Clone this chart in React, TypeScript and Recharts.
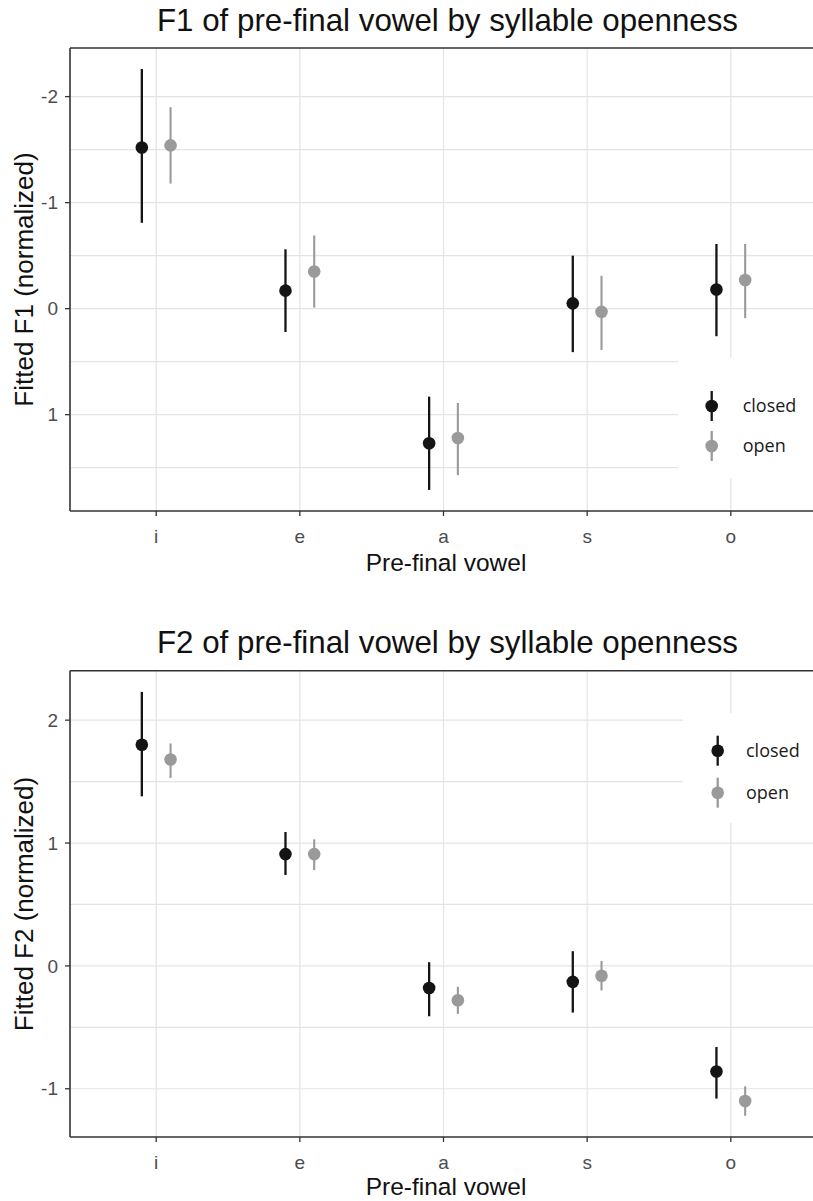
import React from 'react';
import { ScatterChart, Scatter, XAxis, YAxis, CartesianGrid, ErrorBar, ReferenceLine } from 'recharts';

// ---------- data ----------
const vowels = ['i', 'e', 'a', 's', 'o'];
const seriesNames = ['closed', 'open'];

// F1 (normalized), y axis reversed
const f1ClosedMean = [-1.52, -0.17, 1.27, -0.05, -0.18];
const f1ClosedLow = [-2.26, -0.56, 0.83, -0.5, -0.61];
const f1ClosedHigh = [-0.81, 0.22, 1.71, 0.41, 0.26];
const f1OpenMean = [-1.54, -0.35, 1.22, 0.03, -0.27];
const f1OpenLow = [-1.9, -0.69, 0.89, -0.31, -0.61];
const f1OpenHigh = [-1.18, -0.01, 1.57, 0.39, 0.09];

// F2 (normalized)
const f2ClosedMean = [1.8, 0.91, -0.18, -0.13, -0.86];
const f2ClosedLow = [1.38, 0.74, -0.41, -0.38, -1.08];
const f2ClosedHigh = [2.23, 1.09, 0.03, 0.12, -0.66];
const f2OpenMean = [1.68, 0.91, -0.28, -0.08, -1.1];
const f2OpenLow = [1.53, 0.78, -0.39, -0.2, -1.22];
const f2OpenHigh = [1.81, 1.03, -0.17, 0.04, -0.98];

const f1Ticks = [-2, -1, 0, 1];
const f1Grid = [-2, -1.5, -1, -0.5, 0, 0.5, 1, 1.5];
const f2Ticks = [-1, 0, 1, 2];
const f2Grid = [-1, -0.5, 0, 0.5, 1, 1.5, 2];
const xTicks = [1, 2, 3, 4, 5];

// ---------- helpers ----------
const DODGE = 0.1;
const CLOSED = '#141414';
const OPEN = '#9a9a9a';
const GRID = '#e4e4e4';
const BORDER = '#333333';
const SANS = '"Liberation Sans", Arial, Helvetica, sans-serif';
const CHART_W = 813;

type Row = { x: number; y: number; err: [number, number] };

function buildRows(mean: number[], low: number[], high: number[], shift: number): Row[] {
  return mean.map((m, i) => ({ x: i + 1 + shift, y: m, err: [m - low[i], high[i] - m] }));
}

function paddedDomain(arrays: number[][]): [number, number] {
  const all = arrays.flat();
  const mn = Math.min(...all);
  const mx = Math.max(...all);
  const pad = (mx - mn) * 0.05;
  return [mn - pad, mx + pad];
}

const XTick = (props: any) => {
  const { x, y, payload } = props;
  return (
    <text x={x} y={y} dy={27} textAnchor="middle" fontSize={19} fill="#4d4d4d" fontFamily={SANS}>
      {vowels[Math.round(payload.value) - 1]}
    </text>
  );
};

const YTick = (props: any) => {
  const { x, y, payload } = props;
  return (
    <text x={x} y={y} dy={6.7} textAnchor="end" fontSize={19} fill="#4d4d4d" fontFamily={SANS}>
      {payload.value}
    </text>
  );
};

type PanelProps = {
  top: number;
  height: number;
  marginTop: number;
  xAxisHeight: number;
  closed: Row[];
  open: Row[];
  domain: [number, number];
  reversed: boolean;
  ticks: number[];
  grid: number[];
};

const XDOMAIN: [number, number] = [0.4, 5.6];

function Panel(p: PanelProps) {
  return (
    <div style={{ position: 'absolute', left: 0, top: p.top, width: CHART_W, height: p.height }}>
      <ScatterChart
        width={CHART_W}
        height={p.height}
        margin={{ top: p.marginTop, right: -4, bottom: 0, left: 0 }}
      >
        <CartesianGrid
          horizontalValues={p.grid}
          verticalValues={xTicks}
          stroke={GRID}
          strokeWidth={1.2}
          strokeDasharray=""
        />
        <XAxis
          type="number"
          dataKey="x"
          domain={XDOMAIN}
          ticks={xTicks}
          allowDataOverflow
          axisLine={false}
          tickLine={{ stroke: BORDER, strokeWidth: 1.3 }}
          tickSize={5}
          tickMargin={0}
          tick={<XTick />}
          height={p.xAxisHeight}
          interval={0}
        />
        <YAxis
          type="number"
          dataKey="y"
          domain={p.domain}
          reversed={p.reversed}
          ticks={p.ticks}
          allowDataOverflow
          axisLine={false}
          tickLine={{ stroke: BORDER, strokeWidth: 1.3 }}
          tickSize={5}
          tickMargin={7}
          tick={<YTick />}
          width={70}
          interval={0}
        />
        <ReferenceLine y={p.domain[0]} stroke={BORDER} strokeWidth={1.6} ifOverflow="visible" />
        <ReferenceLine y={p.domain[1]} stroke={BORDER} strokeWidth={1.6} ifOverflow="visible" />
        <ReferenceLine x={XDOMAIN[0]} stroke={BORDER} strokeWidth={1.6} ifOverflow="visible" />
        <Scatter
          name={seriesNames[0]}
          data={p.closed}
          dataKey="y"
          isAnimationActive={false}
          shape={(s: any) => <circle cx={s.cx} cy={s.cy} r={6.3} fill={CLOSED} />}
        >
          <ErrorBar dataKey="err" direction="y" width={0} stroke={CLOSED} strokeWidth={2.3} isAnimationActive={false} />
        </Scatter>
        <Scatter
          name={seriesNames[1]}
          data={p.open}
          dataKey="y"
          isAnimationActive={false}
          shape={(s: any) => <circle cx={s.cx} cy={s.cy} r={6.3} fill={OPEN} />}
        >
          <ErrorBar dataKey="err" direction="y" width={0} stroke={OPEN} strokeWidth={2.1} isAnimationActive={false} />
        </Scatter>
      </ScatterChart>
    </div>
  );
}

function LegendBox({ left, top, width, height, keyX, textX, rows }: any) {
  return (
    <div style={{ position: 'absolute', left, top, width, height, background: '#ffffff' }}>
      <svg width={width} height={height} style={{ position: 'absolute', left: 0, top: 0 }}>
        {seriesNames.map((name, i) => {
          const cy = rows[i] - top;
          const col = i === 0 ? CLOSED : OPEN;
          return (
            <g key={name}>
              <line x1={keyX - left} x2={keyX - left} y1={cy - 15} y2={cy + 15} stroke={col} strokeWidth={2.3} />
              <circle cx={keyX - left} cy={cy} r={6.3} fill={col} />
              <text
                x={textX - left}
                y={cy}
                dy={6}
                fontSize={18}
                fill="#1a1a1a"
                fontFamily='"Open Sans", "Noto Sans", sans-serif'
              >
                {name}
              </text>
            </g>
          );
        })}
      </svg>
    </div>
  );
}

export default function App() {
  const f1Closed = buildRows(f1ClosedMean, f1ClosedLow, f1ClosedHigh, -DODGE);
  const f1Open = buildRows(f1OpenMean, f1OpenLow, f1OpenHigh, DODGE);
  const f2Closed = buildRows(f2ClosedMean, f2ClosedLow, f2ClosedHigh, -DODGE);
  const f2Open = buildRows(f2OpenMean, f2OpenLow, f2OpenHigh, DODGE);
  const f1Domain = paddedDomain([f1ClosedLow, f1ClosedHigh, f1OpenLow, f1OpenHigh]);
  const f2Domain = paddedDomain([f2ClosedLow, f2ClosedHigh, f2OpenLow, f2OpenHigh]);

  const titleStyle = { fontFamily: SANS, fill: '#111111' } as any;

  return (
    <div
      style={{
        position: 'absolute',
        left: 0,
        top: 0,
        width: 813,
        height: 1201,
        overflow: 'hidden',
        background: '#ffffff',
      }}
    >
      <Panel
        top={0}
        height={600}
        marginTop={48}
        xAxisHeight={89}
        closed={f1Closed}
        open={f1Open}
        domain={f1Domain}
        reversed={true}
        ticks={f1Ticks}
        grid={f1Grid}
      />
      <Panel
        top={600}
        height={601}
        marginTop={70.7}
        xAxisHeight={64}
        closed={f2Closed}
        open={f2Open}
        domain={f2Domain}
        reversed={false}
        ticks={f2Ticks}
        grid={f2Grid}
      />
      <LegendBox left={678} top={358} width={135} height={120} keyX={711.7} textX={742.7} rows={[406, 446]} />
      <LegendBox left={683} top={713} width={130} height={110} keyX={717.7} textX={746} rows={[750.7, 792.7]} />
      <svg
        width={813}
        height={1201}
        style={{ position: 'absolute', left: 0, top: 0, pointerEvents: 'none' }}
      >
        <text x={447.5} y={30.5} textAnchor="middle" fontSize={31.3} style={titleStyle}>
          F1 of pre-final vowel by syllable openness
        </text>
        <text x={447.5} y={653} textAnchor="middle" fontSize={31.3} style={titleStyle}>
          F2 of pre-final vowel by syllable openness
        </text>
        <text x={446} y={571} textAnchor="middle" fontSize={24.5} style={titleStyle}>
          Pre-final vowel
        </text>
        <text x={446} y={1195} textAnchor="middle" fontSize={24.5} style={titleStyle}>
          Pre-final vowel
        </text>
        <text x={32.5} y={279.5} textAnchor="middle" fontSize={26} transform="rotate(-90 32.5 279.5)" style={titleStyle}>
          Fitted F1 (normalized)
        </text>
        <text x={32.5} y={904} textAnchor="middle" fontSize={26} transform="rotate(-90 32.5 904)" style={titleStyle}>
          Fitted F2 (normalized)
        </text>
      </svg>
    </div>
  );
}
